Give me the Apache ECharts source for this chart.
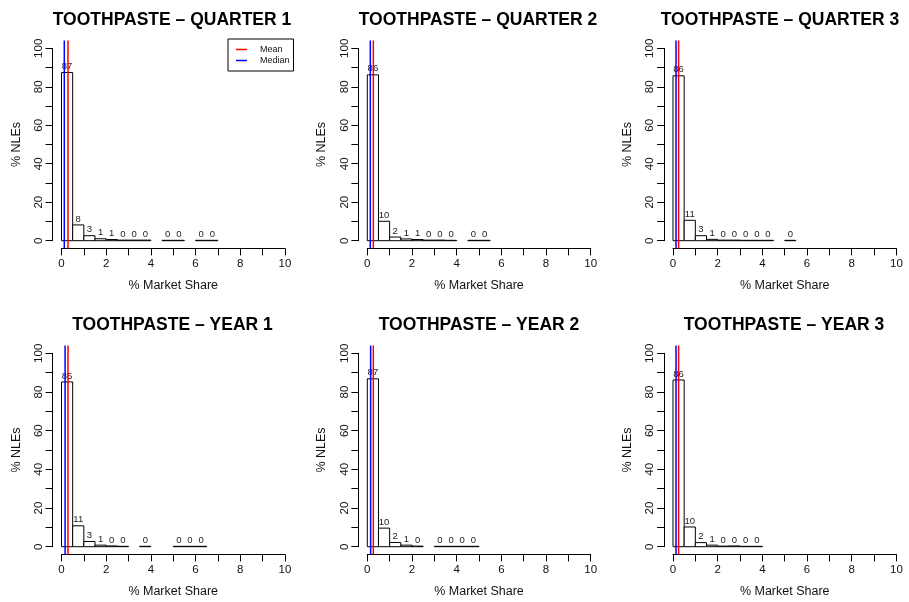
<!DOCTYPE html>
<html>
<head>
<meta charset="utf-8">
<script src="https://cdn.jsdelivr.net/npm/echarts@6/dist/echarts.min.js"></script>
<style>
html,body{margin:0;padding:0;background:#fff;}
#c{width:909px;height:602px;}
</style>
</head>
<body>
<div id="c"></div>
<script>
// ---------- DATA ----------
const titles = ['TOOTHPASTE \u2013 QUARTER 1','TOOTHPASTE \u2013 QUARTER 2','TOOTHPASTE \u2013 QUARTER 3',
                'TOOTHPASTE \u2013 YEAR 1','TOOTHPASTE \u2013 YEAR 2','TOOTHPASTE \u2013 YEAR 3'];
const binWidth = 0.5;
const q1Starts = [0,0.5,1,1.5,2,2.5,3,3.5,4.5,5,6,6.5];
const q1Pct    = [87.4,8.2,2.6,1.0,0.6,0.3,0.3,0.3,0.2,0.2,0.2,0.2];
const q2Starts = [0,0.5,1,1.5,2,2.5,3,3.5,4.5,5];
const q2Pct    = [86.2,10.1,1.9,0.9,0.6,0.3,0.3,0.2,0.2,0.2];
const q3Starts = [0,0.5,1,1.5,2,2.5,3,3.5,4,5];
const q3Pct    = [85.7,10.6,2.6,0.7,0.3,0.3,0.2,0.2,0.2,0.2];
const y1Starts = [0,0.5,1,1.5,2,2.5,3.5,5,5.5,6];
const y1Pct    = [85.2,10.8,2.7,0.8,0.4,0.2,0.2,0.2,0.2,0.2];
const y2Starts = [0,0.5,1,1.5,2,3,3.5,4,4.5];
const y2Pct    = [86.8,9.6,2.2,0.8,0.3,0.2,0.2,0.2,0.2];
const y3Starts = [0,0.5,1,1.5,2,2.5,3,3.5];
const y3Pct    = [86.2,10.2,2.1,0.8,0.3,0.4,0.2,0.2];
const meanVals   = [0.29,0.27,0.25,0.29,0.27,0.25];
const medianVals = [0.125,0.135,0.135,0.16,0.15,0.135];
const xLabelStep = 2;   // labels at 0,2,...,10
const yLabelStep = 20;  // labels at 0,20,...,100

const panelStarts = [q1Starts,q2Starts,q3Starts,y1Starts,y2Starts,y3Starts];
const panelPct    = [q1Pct,q2Pct,q3Pct,y1Pct,y2Pct,y3Pct];

// ---------- LAYOUT ----------
const FONT = '"Liberation Sans", Arial, Helvetica, sans-serif';
const colLeft = [61.5, 367.3, 673];
const plotW = 223.4;
const rowTop = [48.3, 353.3];
const plotH = [192.4, 193.4];
const titleX = [172, 478, 780, 172.5, 479, 784];

const grid = [], xAxis = [], yAxis = [], series = [], title = [];
for (let i = 0; i < 6; i++) {
  const c = i % 3, r = Math.floor(i / 3);
  const L = colLeft[c], T = rowTop[r], W = plotW, H = plotH[r];
  const ex = 0.04 * W, ey = 0.04 * H;
  // grid A: full plot region (-0.4..10.4, -4..104)
  grid.push({left: L - ex, top: T - ey, width: W + 2 * ex, height: H + 2 * ey, containLabel: false});
  // grid B: axes region (0..10, 0..100)
  grid.push({left: L, top: T, width: W, height: H, containLabel: false});
  const gA = 2 * i, gB = 2 * i + 1;
  xAxis.push({type: 'value', gridIndex: gA, min: -0.4, max: 10.4, show: false});
  yAxis.push({type: 'value', gridIndex: gA, min: -4, max: 104, show: false});
  xAxis.push({
    type: 'value', gridIndex: gB, min: 0, max: 10, interval: 1, position: 'bottom', offset: ey,
    axisLine: {show: true, onZero: false, lineStyle: {color: '#000', width: 1}},
    axisTick: {show: true, length: 7, lineStyle: {color: '#000', width: 1}},
    axisLabel: {show: true, margin: 9, color: '#111', fontSize: 11.5, fontFamily: FONT,
      formatter: v => (Math.round(v) % xLabelStep === 0 ? String(v) : '')},
    splitLine: {show: false},
    name: '% Market Share', nameLocation: 'middle', nameGap: 31,
    nameTextStyle: {color: '#111', fontSize: 12.5, fontFamily: FONT}
  });
  yAxis.push({
    type: 'value', gridIndex: gB, min: 0, max: 100, interval: 10, position: 'left', offset: ex,
    axisLine: {show: true, onZero: false, lineStyle: {color: '#000', width: 1}},
    axisTick: {show: true, length: 7, lineStyle: {color: '#000', width: 1}},
    axisLabel: {show: true, margin: 8, rotate: 90, color: '#111', fontSize: 11.5, fontFamily: FONT,
      formatter: v => (Math.round(v) % yLabelStep === 0 ? String(v) : '')},
    splitLine: {show: false},
    name: '% NLEs', nameLocation: 'middle', nameGap: 30,
    nameTextStyle: {color: '#111', fontSize: 12.5, fontFamily: FONT}
  });
  title.push({
    text: titles[i], left: titleX[i], top: T - 37, textAlign: 'center', padding: 0,
    textStyle: {fontSize: 17.5, fontWeight: 'bold', color: '#000', fontFamily: FONT}
  });
  const data = panelStarts[i].map((s, k) => [s, s + binWidth, panelPct[i][k]]);
  series.push({
    type: 'custom', xAxisIndex: gA, yAxisIndex: gA, silent: true, z: 2,
    encode: {x: [0, 1], y: 2},
    data: data,
    renderItem: function (params, api) {
      const s = api.value(0), e = api.value(1), v = api.value(2);
      const p0 = api.coord([s, 0]);
      const p1 = api.coord([e, v]);
      const lab = api.coord([(s + e) / 2, v]);
      return {type: 'group', children: [
        {type: 'rect', shape: {x: p0[0], y: p1[1], width: p1[0] - p0[0], height: p0[1] - p1[1]},
         style: {fill: '#fff', stroke: '#000', lineWidth: 1}},
        {type: 'text', x: lab[0], y: lab[1] - 1,
         style: {text: String(Math.round(v)), fill: '#222', font: '9.5px ' + FONT,
                 textAlign: 'center', textVerticalAlign: 'bottom'}}
      ]};
    }
  });
  series.push({
    type: 'line', name: 'Mean', xAxisIndex: gA, yAxisIndex: gA, symbol: 'none', silent: true, z: 5,
    color: '#ff0000', lineStyle: {color: '#ff0000', width: 1.5},
    data: [[meanVals[i], -4], [meanVals[i], 104]]
  });
  series.push({
    type: 'line', name: 'Median', xAxisIndex: gA, yAxisIndex: gA, symbol: 'none', silent: true, z: 5,
    color: '#0000ff', lineStyle: {color: '#0000ff', width: 1.5},
    data: [[medianVals[i], -4], [medianVals[i], 104]]
  });
}

const chart = echarts.init(document.getElementById('c'), null, {renderer: 'canvas'});
chart.setOption({
  animation: false,
  backgroundColor: '#fff',
  title: title,
  grid: grid,
  xAxis: xAxis,
  yAxis: yAxis,
  legend: {
    data: [{name: 'Mean', icon: 'rect'}, {name: 'Median', icon: 'rect'}],
    orient: 'vertical', left: 228, top: 39,
    borderColor: '#000', borderWidth: 1, borderRadius: 0,
    padding: [6, 4, 6, 8], itemWidth: 11, itemHeight: 1.5, itemGap: 2,
    selectedMode: false,
    textStyle: {fontSize: 9, color: '#111', fontFamily: FONT, padding: [0, 0, 0, 8]}
  },
  series: series
});
</script>
</body>
</html>
